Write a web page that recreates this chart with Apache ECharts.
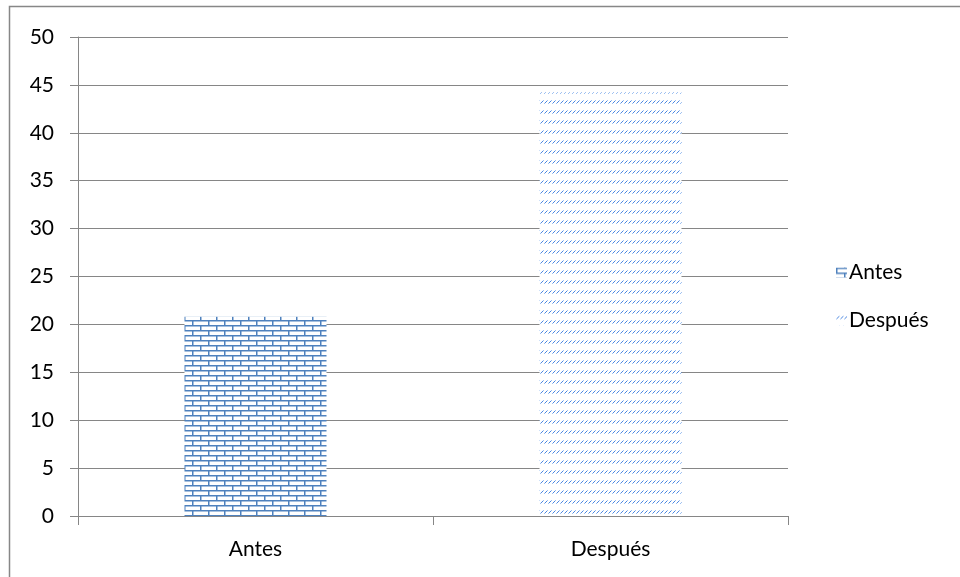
<!DOCTYPE html>
<html>
<head>
<meta charset="utf-8">
<script src="https://cdn.jsdelivr.net/npm/echarts@6/dist/echarts.min.js"></script>
<style>
  html, body { margin: 0; padding: 0; background: #fff; }
  #chart { width: 960px; height: 577px; }
</style>
</head>
<body>
<div id="chart"></div>
<script>
// Categories and values
const categories = ['Antes', 'Después'];
const seriesNames = ['Antes', 'Después'];
const antesValues = [20.8, null];
const despuesValues = [null, 44.2];
const yTicks = { min: 0, max: 50, interval: 5 };

const BLUE = '#4f81bd';

// Brick fill pattern
function brickPattern() {
  const c = document.createElement('canvas');
  c.width = 16; c.height = 10;
  const g = c.getContext('2d');
  g.fillStyle = '#fff';
  g.fillRect(0, 0, 16, 10);
  g.fillStyle = BLUE;
  g.fillRect(0, 0, 16, 1.5);
  g.fillRect(0, 5, 16, 1.5);
  g.fillRect(0, 0, 1.5, 5);
  g.fillRect(8, 5, 1.5, 5);
  return c;
}

// Dashed upward diagonal fill pattern
function diagPattern() {
  const c = document.createElement('canvas');
  c.width = 4; c.height = 10;
  const g = c.getContext('2d');
  g.fillStyle = '#ffffff';
  g.fillRect(0, 0, 4, 10);
  g.fillStyle = '#4a86e0';
  g.fillRect(2, 1, 1, 1);
  g.fillRect(1, 2, 1, 1);
  g.fillStyle = '#9cc0f2';
  g.fillRect(3, 0, 1, 1);
  g.fillRect(0, 3, 1, 1);
  return c;
}

const chart = echarts.init(document.getElementById('chart'), null, { renderer: 'canvas' });
const font = 'Lato, "Open Sans", sans-serif';

chart.setOption({
  animation: false,
  backgroundColor: '#fff',
  grid: { left: 78, top: 37, right: 172, bottom: 61, containLabel: false },
  legend: {
    orient: 'vertical',
    left: 831,
    top: 257,
    itemGap: 27,
    itemWidth: 11,
    itemHeight: 10,
    icon: 'rect',
    textStyle: { fontFamily: font, fontSize: 21, color: '#000', padding: [0, 0, 0, -3] },
    data: seriesNames
  },
  xAxis: {
    type: 'category',
    data: categories,
    axisLine: { lineStyle: { color: '#868686', width: 1 } },
    axisTick: { show: true, length: 9, alignWithLabel: false, lineStyle: { color: '#868686' } },
    axisLabel: { fontFamily: font, fontSize: 21, color: '#000', margin: 23 }
  },
  yAxis: {
    type: 'value',
    min: yTicks.min,
    max: yTicks.max,
    interval: yTicks.interval,
    axisLine: { show: true, lineStyle: { color: '#868686', width: 1 } },
    axisTick: { show: true, length: 8, lineStyle: { color: '#868686' } },
    axisLabel: { fontFamily: font, fontSize: 21, color: '#000', margin: 24 },
    splitLine: { lineStyle: { color: '#868686', width: 1 } }
  },
  series: [
    {
      name: seriesNames[0],
      type: 'bar',
      stack: 'one',
      data: antesValues,
      barWidth: 142,
      itemStyle: { color: { image: brickPattern(), repeat: 'repeat' } }
    },
    {
      name: seriesNames[1],
      type: 'bar',
      stack: 'one',
      data: despuesValues,
      barWidth: 142,
      itemStyle: { color: { image: diagPattern(), repeat: 'repeat' } }
    }
  ],
  graphic: [
    {
      type: 'rect',
      shape: { x: 9.5, y: 6.5, width: 1000, height: 1000 },
      style: { fill: 'none', stroke: '#878787', lineWidth: 1.5 },
      silent: true
    }
  ]
});
</script>
</body>
</html>
